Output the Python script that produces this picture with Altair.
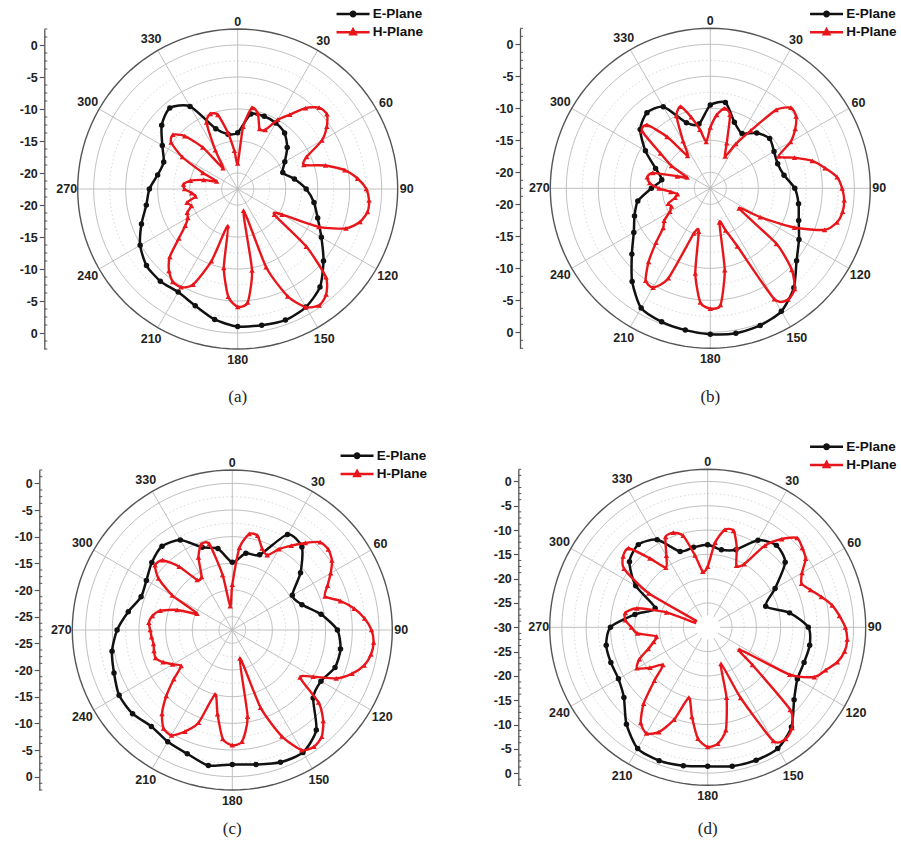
import altair as alt
import numpy as np
import pandas as pd

PLANES = ["E-Plane", "H-Plane"]
LINE_COLORS = ["#111111", "#e8161b"]
ANG_E = list(range(0, 360, 10))
ANG_H = list(range(0, 360, 5))
ANGLE_TICKS = list(range(0, 360, 30))
ANGLE_LABELS = [str(a) for a in ANGLE_TICKS]
CAPTIONS = ["(a)", "(b)", "(c)", "(d)"]

# ---- gain values (dB) ----
E_A = [-13.7, -10.6, -10.4, -10.6, -11.1, -12.4, -14.0, -15.0, -13.5, -11.8, -10.4, -9.2,
       -7.4, -5.0, -2.5, -1.2, -0.7, -0.9, -1.0, -1.8, -3.1, -3.9, -3.7, -3.9,
       -4.9, -6.5, -8.0, -8.7, -9.8, -10.2, -8.9, -7.0, -6.0, -7.6, -12.5, -13.8]
H_A = [-18.5, -12.7, -9.6, -10.3, -12.5, -12.3, -10.0, -8.3, -6.0, -4.5, -4.3, -5.5,
       -7.3, -10.6, -11.5, -8.3, -5.5, -3.7, -2.4, -1.9, -1.9, -2.7, -4.5, -8.5,
       -14.5, -15.5, -8.5, -3.0, -1.0, -0.3, -1.2, -4.0, -9.5, -19.0, -9.6, -4.7,
       -4.1, -5.6, -10.0, -16.5, -10.5, -6.0, -4.8, -4.8, -5.8, -7.5, -10.5, -12.5,
       -13.5, -13.8, -14.8, -14.3, -15.8, -15.3, -14.2, -14.0, -15.0, -17.0, -19.0, -16.5,
       -12.5, -9.8, -9.3, -10.8, -14.0, -18.5, -15.5, -11.0, -10.0, -10.5, -13.5, -16.5]

E_B = [-9.5, -8.9, -11.5, -12.6, -11.2, -10.4, -11.0, -11.3, -10.8, -9.3, -8.5, -7.8,
       -6.5, -4.9, -2.2, -0.3, 0.3, 0.5, 0.3, 0.0, -0.3, -0.9, -3.5, -6.5,
       -8.7, -9.9, -11.0, -13.3, -14.8, -13.4, -10.8, -8.2, -7.1, -7.8, -11.6, -12.3]
H_B = [-13.0, -11.0, -9.8, -10.6, -15.0, -17.0, -14.5, -11.5, -6.5, -4.7, -5.0, -6.3,
       -8.0, -10.7, -8.5, -6.0, -4.3, -2.6, -1.9, -1.5, -1.5, -2.0, -3.5, -8.0,
       -13.5, -17.0, -9.0, -4.5, -2.0, -1.3, -2.5, -12.5, -15.5, -17.0, -9.5, -4.2,
       -3.7, -4.6, -9.0, -15.5, -15.0, -7.0, -4.6, -4.9, -7.5, -10.5, -12.9, -13.7,
       -15.2, -15.8, -15.5, -16.8, -17.3, -16.3, -14.5, -13.0, -12.5, -13.2, -17.0, -18.5,
       -15.5, -13.0, -8.6, -8.5, -12.0, -16.3, -14.0, -10.0, -8.9, -11.0, -13.2, -15.2]

E_C = [-14.8, -12.9, -12.5, -6.8, -7.2, -10.8, -14.5, -13.6, -10.6, -7.8, -6.9, -7.0,
       -8.3, -7.7, -3.0, -1.0, -1.1, -1.9, -2.3, -1.7, -2.8, -3.3, -3.9, -3.1,
       -3.0, -3.9, -4.6, -5.9, -7.7, -9.3, -8.9, -7.8, -7.0, -8.0, -11.0, -12.0]
H_C = [-19.0, -12.0, -9.2, -9.2, -11.2, -12.0, -10.0, -8.2, -6.2, -4.2, -4.0, -4.7,
       -6.2, -7.8, -9.0, -6.5, -4.3, -2.6, -1.4, -0.9, -1.1, -1.9, -3.6, -6.0,
       -10.0, -12.0, -6.4, -3.4, -1.4, -0.8, -1.5, -5.5, -12.0, -22.0, -11.0, -6.5,
       -5.9, -7.0, -11.5, -15.0, -9.0, -6.5, -4.7, -5.0, -7.0, -10.0, -13.2, -15.8,
       -14.6, -13.2, -12.2, -12.3, -12.5, -12.3, -12.1, -11.8, -12.3, -13.5, -16.5, -20.2,
       -14.5, -10.6, -8.6, -9.0, -12.0, -16.0, -16.0, -12.5, -10.4, -10.8, -17.0, -23.0]

E_D = [-13.0, -13.8, -13.0, -9.3, -8.0, -9.2, -14.0, -17.3, -12.9, -9.3, -8.7, -8.9,
       -8.7, -6.8, -3.2, -1.2, -0.9, -1.0, -1.4, -1.1, -0.8, -1.2, -4.0, -7.5,
       -8.8, -8.8, -8.8, -10.0, -14.8, -18.5, -12.9, -9.0, -7.8, -9.2, -13.4, -13.3]
H_D = [-17.5, -12.5, -9.6, -9.4, -12.5, -16.0, -15.0, -9.5, -6.3, -4.0, -4.6, -5.4,
       -7.6, -8.7, -7.5, -5.8, -4.0, -2.8, -1.7, -1.2, -1.4, -2.4, -4.2, -5.8,
       -10.5, -22.0, -18.0, -6.0, -3.0, -2.0, -3.0, -14.0, -22.0, -15.0, -8.5, -6.0,
       -5.4, -7.0, -11.3, -15.0, -9.8, -6.2, -4.8, -6.0, -9.5, -14.5, -18.0, -15.5,
       -13.2, -14.5, -17.0, -18.5, -19.3, -15.5, -14.3, -13.0, -12.8, -14.9, -21.0, -29.0,
       -16.0, -9.0, -7.3, -7.0, -11.5, -15.0, -13.0, -9.5, -9.3, -10.5, -15.0, -18.5]

FONT = "Liberation Sans"
RED = LINE_COLORS[1]
BLACK = LINE_COLORS[0]
GRID = "#b9b9b9"

# legend symbols: short line with the marker in the middle
PATH_E = "M-3.3,0L3.3,0M-0.45,0A0.45,0.45,0,1,1,0.45,0A0.45,0.45,0,1,1,-0.45,0Z"
PATH_H = "M-3.3,0L3.3,0M0,-0.6L0.55,0.4L-0.55,0.4Z"


def series_df(e_vals, h_vals):
    rows = [{"plane": PLANES[0], "angle": a, "db": v} for a, v in zip(ANG_E, e_vals)]
    rows += [{"plane": PLANES[1], "angle": a, "db": v} for a, v in zip(ANG_H, h_vals)]
    return pd.DataFrame(rows)


def to_xy(ch, lo):
    return (ch.transform_calculate(rho=f"max(datum.db - ({lo}), 0)")
              .transform_calculate(x="datum.rho * sin(datum.angle * PI / 180)")
              .transform_calculate(y="datum.rho * cos(datum.angle * PI / 180)"))


def panel(e_vals, h_vals, caption, lo, hi, cx, cy, R, axis_x, width, height,
          leg_x, leg_y, cap_dy, hole=False):
    rho_out = hi - lo
    k = R / rho_out
    xs = alt.Scale(domain=[-rho_out, rho_out], range=[cx - R, cx + R], zero=False, nice=False)
    ys = alt.Scale(domain=[-rho_out, rho_out], range=[cy + R, cy - R], zero=False, nice=False)

    major = [float(v) for v in np.arange(-50, 0.01, 5) if v > lo + 1e-6]
    minor = [float(v) for v in np.arange(-50, hi - 0.01, 2.5)
             if v > lo + 1e-6 and abs(v % 5) > 1e-6 and not (hole and v < lo + 2.6)]
    circ_ang = list(range(0, 361, 3))

    def circles(levels):
        return pd.DataFrame([{"level": L, "angle": a, "db": L} for L in levels for a in circ_ang])

    label_levels = [float(v) for v in np.arange(-50, 0.01, 5) if v >= lo - 1e-6]
    major_vals = sorted(set([round(L - lo, 4) for L in label_levels] +
                            [round(-(L - lo), 4) for L in label_levels]))
    yaxis = alt.Axis(orient="left", offset=-axis_x, values=major_vals,
                     labelExpr=f"toString(abs(datum.value) + ({lo}))", title=None, grid=False,
                     domainColor="#555", domainWidth=1.3, tickColor="#555", tickWidth=1.2,
                     tickSize=5, labelFont=FONT, labelFontWeight="bold", labelFontSize=12.5,
                     labelColor="#222", labelPadding=2, labelFlush=False, labelOverlap=False)

    def X(f="x"):
        return alt.X(f"{f}:Q", scale=xs, axis=None)

    def Y(f="y"):
        return alt.Y(f"{f}:Q", scale=ys, axis=yaxis)

    g_major = to_xy(alt.Chart(circles(major)), lo).mark_line(
        color=GRID, strokeWidth=0.9).encode(x=X(), y=Y(), detail="level:N", order="angle:Q")
    g_minor = to_xy(alt.Chart(circles(minor)), lo).mark_line(
        color="#cfcfcf", strokeWidth=0.8, strokeDash=[1.5, 2.5]).encode(
        x=X(), y=Y(), detail="level:N", order="angle:Q")
    g_outer = to_xy(alt.Chart(circles([hi])), lo).mark_line(
        color="#555555", strokeWidth=1.4).encode(x=X(), y=Y(), detail="level:N", order="angle:Q")

    spokes = (alt.Chart(pd.DataFrame({"angle": ANGLE_TICKS}))
              .transform_calculate(x0="0", y0="0")
              .transform_calculate(x1=f"{rho_out} * sin(datum.angle * PI / 180)")
              .transform_calculate(y1=f"{rho_out} * cos(datum.angle * PI / 180)")
              .mark_rule(color=GRID, strokeWidth=0.9)
              .encode(x=X("x0"), y=Y("y0"), x2="x1:Q", y2="y1:Q"))

    # minor ticks of the dB axis (every 1.25 dB)
    ax = (axis_x - cx) / k
    minor_t = [float(v) for v in np.arange(-rho_out, rho_out + 1e-6, 1.25)
               if min(abs(v - m) for m in major_vals) > 1e-6]
    mticks = (alt.Chart(pd.DataFrame({"t": minor_t}))
              .transform_calculate(xa=f"{ax}", xb=f"{ax + 3.0 / k}")
              .mark_rule(color="#555", strokeWidth=1)
              .encode(x=X("xa"), x2="xb:Q", y=Y("t")))

    base = to_xy(alt.Chart(series_df(e_vals, h_vals)), lo)
    e_line = base.transform_filter(alt.datum.plane == PLANES[0]).mark_line(
        interpolate="cardinal-closed", tension=0.3, color=BLACK, strokeWidth=2.5).encode(
        x=X(), y=Y(), order="angle:Q")
    e_pts = base.transform_filter(alt.datum.plane == PLANES[0]).mark_point(
        shape="circle", filled=True, size=30, color=BLACK, opacity=1).encode(x=X(), y=Y())
    h_line = base.transform_filter(alt.datum.plane == PLANES[1]).mark_line(
        interpolate="cardinal-closed", tension=0.35, color=RED, strokeWidth=2.4).encode(
        x=X(), y=Y(), order="angle:Q")
    h_pts = base.transform_filter(alt.datum.plane == PLANES[1]).mark_point(
        shape="triangle-up", filled=True, size=30, color=RED, opacity=1).encode(x=X(), y=Y())

    labels = (alt.Chart(pd.DataFrame({"angle": ANGLE_TICKS, "label": ANGLE_LABELS}))
              .transform_calculate(
                  rl=f"{rho_out} + (5 + 2 * length(datum.label) + 2.5 * abs(sin(datum.angle * PI / 90))) / {k}")
              .transform_calculate(x="datum.rl * sin(datum.angle * PI / 180)")
              .transform_calculate(y="datum.rl * cos(datum.angle * PI / 180)")
              .mark_text(font=FONT, fontWeight="bold", fontSize=12.5, color="#222",
                         align="center", baseline="middle")
              .encode(x=X(), y=Y(), text="label:N"))

    cap = (alt.Chart(pd.DataFrame({"caption": [caption]}))
           .transform_calculate(x="0", y=f"{-rho_out}")
           .mark_text(font="Liberation Serif", fontSize=17, color="#222", dy=cap_dy,
                      align="center", baseline="middle")
           .encode(x=X(), y=Y(), text="caption:N"))

    leg = alt.Legend(orient="none", legendX=leg_x, legendY=leg_y, title=None,
                     labelFont=FONT, labelFontWeight="bold", labelFontSize=13.5,
                     labelColor="#111", labelOffset=13, rowPadding=2.2, padding=0,
                     symbolSize=100, symbolStrokeWidth=2.4, symbolOpacity=1, labelLimit=0)
    legend_layer = (alt.Chart(pd.DataFrame({"plane": PLANES}))
                    .transform_filter("false")
                    .mark_point(filled=False)
                    .encode(color=alt.Color("plane:N", scale=alt.Scale(domain=PLANES, range=LINE_COLORS), legend=leg),
                            shape=alt.Shape("plane:N", scale=alt.Scale(domain=PLANES, range=[PATH_E, PATH_H]), legend=leg)))

    layers = [g_minor, g_major, spokes, g_outer, mticks, e_line, e_pts, h_line, h_pts]
    if hole:
        hole_layer = (alt.Chart(pd.DataFrame({"c": [0]}))
                      .transform_calculate(x="0", y="0")
                      .mark_point(shape="circle", filled=True, color="white", opacity=1,
                                  size=(2 * 2.5 * k) ** 2)
                      .encode(x=X(), y=Y()))
        layers.append(hole_layer)
    layers += [labels, cap, legend_layer]
    return alt.layer(*layers).properties(width=width, height=height)


pa = panel(E_A, H_A, CAPTIONS[0], -22.5, 2.5, 237.7, 189.0, 160, 44.3, 450, 430, 346.3, 7.3, 48)
pb = panel(E_B, H_B, CAPTIONS[1], -22.5, 2.5, 260.3, 188.3, 160, 70.0, 451, 430, 369.8, 7.3, 49)
pc = panel(E_C, H_C, CAPTIONS[2], -27.5, 2.5, 232.3, 200.0, 160, 39.3, 450, 419, 350.3, 19.0, 39)
pd_ = panel(E_D, H_D, CAPTIONS[3], -30.0, 2.5, 257.7, 197.3, 158, 68.3, 451, 419, 369.8, 10.0, 44, hole=True)

chart = (alt.concat(pa, pb, pc, pd_, columns=2, spacing=0, bounds="flush")
         .resolve_scale(x="independent", y="independent", color="independent", shape="independent")
         .resolve_legend(color="independent", shape="independent")
         .resolve_axis(x="independent", y="independent")
         .properties(padding=0, background="white")
         .configure_view(stroke=None))

chart.save("out.html", embed_options={"renderer": "svg", "actions": False})
